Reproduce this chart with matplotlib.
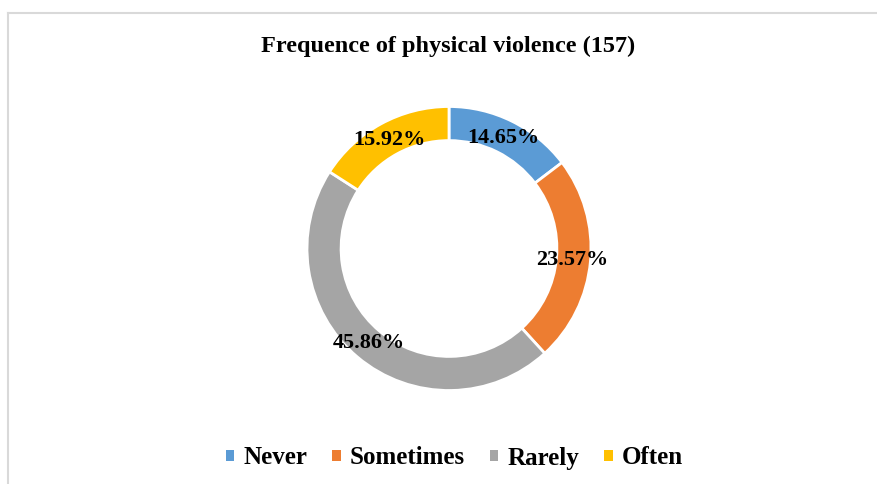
import matplotlib.pyplot as plt
from matplotlib.lines import Line2D
from matplotlib.patches import Patch

categories = ['Never', 'Sometimes', 'Rarely', 'Often']
shares = [14.65, 23.57, 45.86, 15.92]
colors = ['#5B9BD5', '#ED7D31', '#A5A5A5', '#FFC000']
title = 'Frequence of physical violence (157)'

plt.rcParams['font.family'] = ['Liberation Serif', 'DejaVu Serif']

fig = plt.figure(figsize=(8.77, 4.84), dpi=100)
ax = fig.add_axes([0, 0, 1, 1])
ax.set_xlim(0, 877)
ax.set_ylim(484, 0)
ax.axis('off')

# outer frame (top and left edges are visible in the reference)
fig.add_artist(Line2D([7.5 / 877, 1], [1 - 13 / 484, 1 - 13 / 484], color='#d9d9d9', lw=1.5))
fig.add_artist(Line2D([7.5 / 877, 7.5 / 877], [1 - 13 / 484, 0], color='#d9d9d9', lw=1.5))

fig.text(448 / 877, 1 - 46 / 484, title, ha='center', va='center',
         fontsize=17.5, fontweight='bold')

# donut
r = 142
pax = fig.add_axes([(449 - r) / 877, (484 - 248.5 - r) / 484, 2 * r / 877, 2 * r / 484])
wedges, texts, autotexts = pax.pie(
    shares, colors=colors, startangle=90, counterclock=False,
    autopct='%.2f%%', pctdistance=0.87,
    wedgeprops=dict(width=0.24, edgecolor='white', linewidth=2),
    textprops=dict(fontsize=16, fontweight='bold', color='black'))
pax.set_xlim(-1, 1)
pax.set_ylim(-1, 1)
pax.set_aspect('equal')

handles = [Patch(facecolor=c, edgecolor='none') for c in colors]
fig.legend(handles, categories, loc='center', bbox_to_anchor=(454 / 877, 1 - 458 / 484),
           ncol=4, frameon=False, prop=dict(size=18, weight='bold'),
           handlelength=0.35, handleheight=0.35, handletextpad=0.35, columnspacing=1.0)

fig.savefig('out.png', dpi=100)
